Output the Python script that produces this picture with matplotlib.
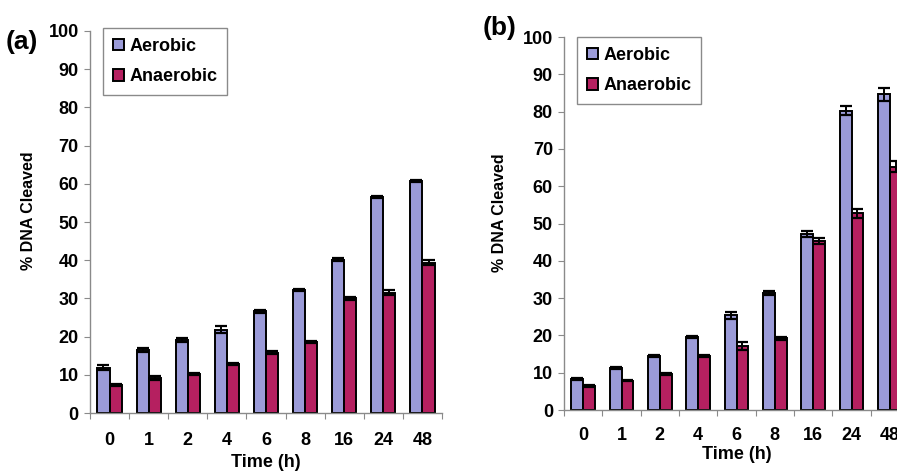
import numpy as np
import matplotlib.pyplot as plt

plt.rcParams['font.family'] = ['Liberation Sans', 'DejaVu Sans']
plt.rcParams['font.weight'] = 'bold'

# Data
times = ["0", "1", "2", "4", "6", "8", "16", "24", "48"]

aerobic_a = [11.9, 16.5, 19.2, 21.8, 26.6, 32.2, 40.1, 56.6, 60.7]
aerobic_a_err = [0.6, 0.5, 0.5, 0.9, 0.4, 0.3, 0.4, 0.3, 0.3]
anaerobic_a = [7.4, 9.1, 10.3, 12.9, 15.8, 18.6, 30.0, 31.5, 39.4]
anaerobic_a_err = [0.2, 0.5, 0.3, 0.3, 0.4, 0.2, 0.5, 0.6, 0.7]

aerobic_b = [8.3, 11.2, 14.5, 19.6, 25.4, 31.4, 47.3, 80.2, 84.6]
aerobic_b_err = [0.3, 0.3, 0.2, 0.3, 1.0, 0.5, 0.8, 1.2, 1.8]
anaerobic_b = [6.4, 7.9, 9.6, 14.5, 17.2, 19.2, 45.3, 52.8, 65.2]
anaerobic_b_err = [0.2, 0.2, 0.2, 0.2, 1.0, 0.3, 0.8, 1.2, 1.5]

aer_color = '#9b9bd8'
ana_color = '#b52060'
spine_color = '#8a8a8a'


def draw_panel(ax, aer, aer_err, ana, ana_err, leg_y, tick_pad, xlab_pad, ylab_x):
    x = np.arange(len(times)) + 0.5
    w = 0.31
    ax.bar(x - w / 2, aer, w, color=aer_color, edgecolor='black', linewidth=1.4,
           yerr=aer_err, capsize=4, error_kw=dict(elinewidth=1.4, capthick=1.6), label='Aerobic')
    ax.bar(x + w / 2, ana, w, color=ana_color, edgecolor='black', linewidth=1.4,
           yerr=ana_err, capsize=4, error_kw=dict(elinewidth=1.4, capthick=1.6), label='Anaerobic')
    ax.set_xlim(0, len(times))
    ax.set_ylim(0, 100)
    ax.set_yticks(range(0, 101, 10))
    ax.set_xticks(np.arange(len(times) + 1))
    ax.set_xticklabels([])
    ax.set_xticks(x, minor=True)
    ax.set_xticklabels(times, minor=True, fontsize=13, fontweight='bold')
    ax.tick_params(axis='x', which='minor', length=0, pad=tick_pad)
    ax.tick_params(axis='x', which='major', length=4, color=spine_color, direction='out')
    ax.tick_params(axis='y', length=4, color=spine_color, labelsize=13, pad=4)
    for lab in ax.get_yticklabels():
        lab.set_fontweight('bold')
    for s in ['top', 'right']:
        ax.spines[s].set_visible(False)
    for s in ['left', 'bottom']:
        ax.spines[s].set_color(spine_color)
        ax.spines[s].set_linewidth(1.0)
    ax.set_ylabel('% DNA Cleaved', fontsize=11.5, fontweight='bold')
    ax.yaxis.set_label_coords(ylab_x, 0.53)
    ax.set_xlabel('Time (h)', fontsize=13, fontweight='bold', labelpad=xlab_pad)
    leg = ax.legend(loc='upper left', bbox_to_anchor=(0.038, leg_y), fontsize=13,
                    handlelength=0.6, handleheight=0.6, handletextpad=0.3,
                    labelspacing=0.75, borderpad=0.55, borderaxespad=0,
                    fancybox=False, framealpha=1)
    leg.get_frame().set_edgecolor(spine_color)
    leg.get_frame().set_linewidth(1.0)
    for t in leg.get_texts():
        t.set_fontweight('bold')


fig = plt.figure(figsize=(8.97, 4.71), dpi=100)

ax1 = fig.add_axes([0.1003, 0.1231, 0.3925, 0.8111])
draw_panel(ax1, aerobic_a, aerobic_a_err, anaerobic_a, anaerobic_a_err,
           leg_y=1.008, tick_pad=14, xlab_pad=3, ylab_x=-0.152)

ax2 = fig.add_axes([0.6288, 0.1295, 0.3846, 0.7919])
draw_panel(ax2, aerobic_b, aerobic_b_err, anaerobic_b, anaerobic_b_err,
           leg_y=1.0, tick_pad=12, xlab_pad=2, ylab_x=-0.165)

fig.text(0.006, 0.895, '(a)', fontsize=19, fontweight='bold')
fig.text(0.538, 0.925, '(b)', fontsize=19, fontweight='bold')

fig.savefig('out.png', dpi=100)
